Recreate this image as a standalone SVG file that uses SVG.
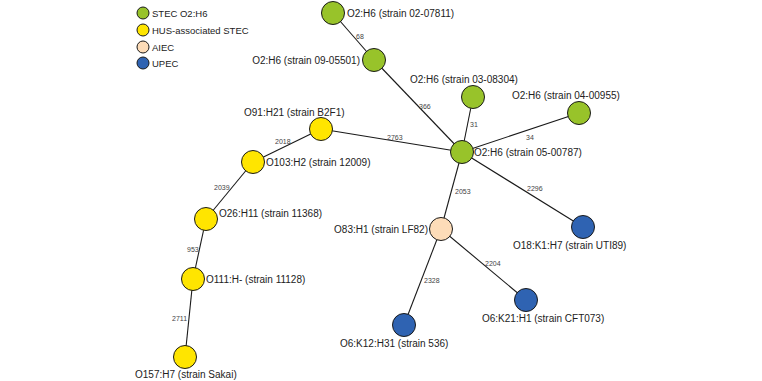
<svg xmlns="http://www.w3.org/2000/svg" width="762" height="381" viewBox="0 0 762 381">
<style>
text{font-family:"Liberation Sans",Arial,sans-serif;fill:#222}
.lab{font-size:10px}
.leg{font-size:9.5px}
.el{font-size:7px;fill:#444}
.n{stroke:#1a1a1a;stroke-width:1}
.g{fill:#98c32a}.y{fill:#ffe500}.p{fill:#fddcb8}.b{fill:#2f63b2}
#edges line{stroke:#1a1a1a;stroke-width:1.1}
</style>
<rect width="762" height="381" fill="#fff"/>
<g id="legend">
<circle class="n g" cx="143" cy="13" r="6"/><text class="leg" x="152" y="17">STEC O2:H6</text>
<circle class="n y" cx="143" cy="30" r="6"/><text class="leg" x="152" y="34">HUS-associated STEC</text>
<circle class="n p" cx="143" cy="47" r="6"/><text class="leg" x="152" y="51">AIEC</text>
<circle class="n b" cx="143" cy="63" r="6"/><text class="leg" x="152" y="67">UPEC</text>
</g>
<g id="edges">
<line x1="333" y1="13" x2="374" y2="60"/>
<line x1="374" y1="60" x2="462" y2="152"/>
<line x1="473" y1="97" x2="462" y2="152"/>
<line x1="579" y1="113" x2="462" y2="152"/>
<line x1="321" y1="129" x2="462" y2="152"/>
<line x1="321" y1="129" x2="253" y2="162"/>
<line x1="253" y1="162" x2="206" y2="219"/>
<line x1="206" y1="219" x2="193" y2="279"/>
<line x1="193" y1="279" x2="185" y2="357"/>
<line x1="462" y1="152" x2="441" y2="229"/>
<line x1="462" y1="152" x2="583" y2="227"/>
<line x1="441" y1="229" x2="404" y2="325"/>
<line x1="441" y1="229" x2="526" y2="300"/>
<text class="el" x="356" y="39">68</text>
<text class="el" x="419" y="109">366</text>
<text class="el" x="470" y="127">31</text>
<text class="el" x="526" y="140">34</text>
<text class="el" x="387" y="140">2763</text>
<text class="el" x="275" y="144">2018</text>
<text class="el" x="214" y="190">2039</text>
<text class="el" x="187" y="252">953</text>
<text class="el" x="172" y="321">2711</text>
<text class="el" x="455" y="194">2053</text>
<text class="el" x="527" y="191">2296</text>
<text class="el" x="424" y="283">2328</text>
<text class="el" x="485" y="266">2204</text>
</g>
<g id="n02-07811"><circle class="n g" cx="333" cy="13" r="11.5"/><text class="lab" x="347" y="17">O2:H6 (strain 02-07811)</text></g>
<g id="n09-05501"><circle class="n g" cx="374" cy="60" r="11.5"/><text class="lab" x="360" y="64" text-anchor="end">O2:H6 (strain 09-05501)</text></g>
<g id="n03-08304"><circle class="n g" cx="473" cy="97" r="11.5"/><text class="lab" x="410" y="83">O2:H6 (strain 03-08304)</text></g>
<g id="n04-00955"><circle class="n g" cx="579" cy="113" r="11.5"/><text class="lab" x="512" y="99">O2:H6 (strain 04-00955)</text></g>
<g id="n05-00787"><circle class="n g" cx="462" cy="152" r="11.5"/><text class="lab" x="474" y="156">O2:H6 (strain 05-00787)</text></g>
<g id="nB2F1"><circle class="n y" cx="321" cy="129" r="11.5"/><text class="lab" x="244" y="116">O91:H21 (strain B2F1)</text></g>
<g id="n12009"><circle class="n y" cx="253" cy="162" r="11.5"/><text class="lab" x="266" y="166">O103:H2 (strain 12009)</text></g>
<g id="n11368"><circle class="n y" cx="206" cy="219" r="11.5"/><text class="lab" x="219" y="217">O26:H11 (strain 11368)</text></g>
<g id="n11128"><circle class="n y" cx="193" cy="279" r="11.5"/><text class="lab" x="206" y="283">O111:H- (strain 11128)</text></g>
<g id="nSakai"><circle class="n y" cx="185" cy="357" r="11.5"/><text class="lab" x="135" y="378">O157:H7 (strain Sakai)</text></g>
<g id="nLF82"><circle class="n p" cx="441" cy="229" r="11.5"/><text class="lab" x="428" y="233" text-anchor="end">O83:H1 (strain LF82)</text></g>
<g id="nUTI89"><circle class="n b" cx="583" cy="227" r="11.5"/><text class="lab" x="513" y="249">O18:K1:H7 (strain UTI89)</text></g>
<g id="nCFT073"><circle class="n b" cx="526" cy="300" r="11.5"/><text class="lab" x="482" y="322">O6:K21:H1 (strain CFT073)</text></g>
<g id="n536"><circle class="n b" cx="404" cy="325" r="11.5"/><text class="lab" x="340" y="347">O6:K12:H31 (strain 536)</text></g>
</svg>
